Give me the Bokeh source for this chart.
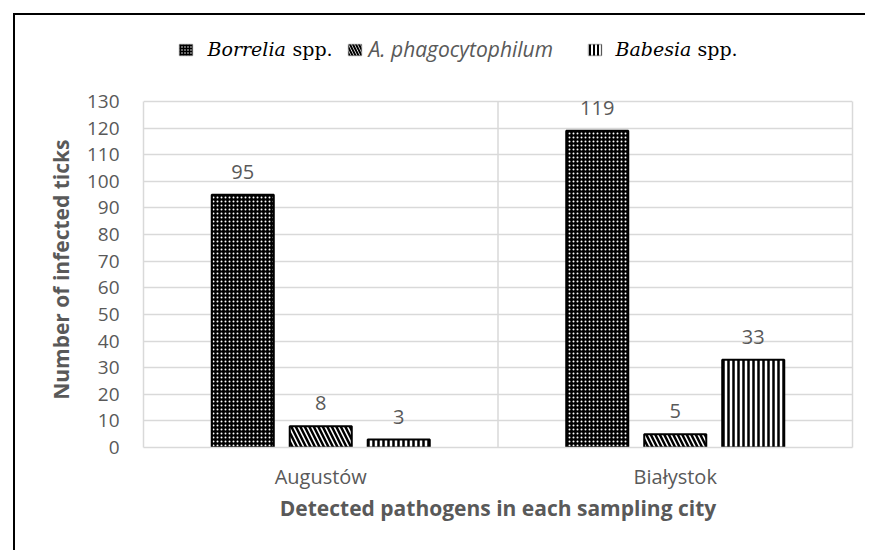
from bokeh.plotting import figure
from bokeh.models import (ColumnDataSource, FactorRange, Range1d, Label, LinearAxis,
                          BoxAnnotation, FixedTicker, LabelSet)
from bokeh.transform import dodge
from bokeh.core.properties import value
from bokeh.embed import file_html
from bokeh.resources import INLINE

# ---- data ----
cities = ["Augustów", "Białystok"]
borrelia = [95, 119]
anaplasma = [8, 5]
babesia = [3, 33]
y_ticks = [0, 10, 20, 30, 40, 50, 60, 70, 80, 90, 100, 110, 120, 130]

GREY = "#595959"
GRID = "#d9d9d9"

# ---- layout constants (pixels) ----
W, H = 856, 541            # canvas size (page offset 15,15 incl. css border)
FRAME_LEFT, FRAME_RIGHT = 128, 19
FRAME_TOP, FRAME_BOTTOM = 0, 109
AXIS_TOP_PX = 86           # px between canvas top and the top gridline
frame_h = H - FRAME_TOP - FRAME_BOTTOM
y_end = y_ticks[-1] * frame_h / (frame_h - AXIS_TOP_PX)

src = ColumnDataSource(dict(
    city=cities,
    borrelia=borrelia, anaplasma=anaplasma, babesia=babesia,
    borrelia_txt=[str(v) for v in borrelia],
    anaplasma_txt=[str(v) for v in anaplasma],
    babesia_txt=[str(v) for v in babesia],
))

p = figure(x_range=FactorRange(*cities), y_range=Range1d(0, y_end),
           width=W, height=H, output_backend="svg", toolbar_location=None,
           min_border_left=FRAME_LEFT, min_border_right=FRAME_RIGHT,
           min_border_top=FRAME_TOP, min_border_bottom=FRAME_BOTTOM,
           margin=(13, 0, 0, 13),
           styles={"border-left": "2px solid black", "border-top": "2px solid black",
                   "border-right": "0px none", "border-bottom": "0px none",
                   "clip-path": "inset(0px 4px 4px 0px)"})

p.outline_line_color = None
p.background_fill_color = "white"
p.border_fill_color = "white"

# grids
p.xgrid.visible = False
p.ygrid.grid_line_color = GRID
p.ygrid.grid_line_width = 1.5
p.ygrid.ticker = FixedTicker(ticks=y_ticks)
# category divider
p.segment(x0=[len(cities) / 2], y0=[y_ticks[0]], x1=[len(cities) / 2], y1=[y_ticks[-1]],
          line_color=GRID, line_width=1.5)

# axes
p.yaxis.ticker = FixedTicker(ticks=y_ticks)
p.yaxis.bounds = (y_ticks[0], y_ticks[-1])
p.yaxis.axis_line_color = GRID
p.yaxis.axis_line_width = 1.5
p.yaxis.major_tick_line_color = None
p.yaxis.minor_tick_line_color = None
p.yaxis.major_label_text_font = "Open Sans"
p.yaxis.major_label_text_font_size = "19px"
p.yaxis.major_label_text_color = GREY
p.yaxis.major_label_standoff = 18
# trailing no-break spaces keep the title centred on the 0-130 part of the axis
p.yaxis.axis_label = "Number of infected ticks" + "\u00a0" * 14
p.yaxis.axis_label_text_font = "Open Sans"
p.yaxis.axis_label_text_font_style = "bold"
p.yaxis.axis_label_text_font_size = "21px"
p.yaxis.axis_label_text_color = GREY
p.yaxis.axis_label_standoff = 9

right_axis = LinearAxis(ticker=FixedTicker(ticks=[]), bounds=(y_ticks[0], y_ticks[-1]),
                        axis_line_color=GRID, axis_line_width=1.5,
                        major_tick_line_color=None, minor_tick_line_color=None,
                        major_tick_out=0, major_label_standoff=0)
p.add_layout(right_axis, "right")

p.xaxis.axis_line_color = GRID
p.xaxis.axis_line_width = 1.5
p.xaxis.major_tick_line_color = None
p.xaxis.minor_tick_line_color = None
p.xaxis.major_label_text_font = "Open Sans"
p.xaxis.major_label_text_font_size = "20px"
p.xaxis.major_label_text_color = GREY
p.xaxis.major_label_standoff = 9
p.xaxis.axis_label = "Detected pathogens in each sampling city"
p.xaxis.axis_label_text_font = "Open Sans"
p.xaxis.axis_label_text_font_style = "bold"
p.xaxis.axis_label_text_font_size = "21px"
p.xaxis.axis_label_text_color = GREY
p.xaxis.axis_label_standoff = 1

# bars
series = [
    ("borrelia", -0.22, dict(fill_color="black", hatch_pattern="dot", hatch_color="white",
                             hatch_scale=4, hatch_weight=0.8)),
    ("anaplasma", 0.0, dict(fill_color="white", hatch_pattern="left_diagonal_line",
                            hatch_color="black", hatch_scale=9, hatch_weight=2.5)),
    ("babesia", 0.22, dict(fill_color="white", hatch_pattern="vertical_line",
                           hatch_color="black", hatch_scale=5, hatch_weight=2.5)),
]
for field, off, style in series:
    p.vbar(x=dodge("city", off, range=p.x_range), top=field, width=0.175, bottom=0,
           source=src, line_color="black", line_width=2, **style)
    p.add_layout(LabelSet(x=dodge("city", off, range=p.x_range), y=field,
                          text=field + "_txt", source=src, y_offset=16,
                          text_align="center", text_baseline="alphabetic",
                          text_font=value("Open Sans"), text_font_size=value("20px"),
                          text_color=GREY))

# legend (screen units: from frame left / frame bottom)
LEG_BASE = 399
LEG_BOX_BOTTOM, LEG_BOX_TOP = 392, 403
legend_boxes = [
    (36, dict(fill_color="black", hatch_pattern="dot", hatch_color="white",
              hatch_scale=3, hatch_weight=0.8)),
    (205, dict(fill_color="white", hatch_pattern="left_diagonal_line",
               hatch_color="black", hatch_scale=6, hatch_weight=2)),
    (445, dict(fill_color="white", hatch_pattern="vertical_line",
               hatch_color="black", hatch_scale=4, hatch_weight=2)),
]
for lx, st in legend_boxes:
    p.add_layout(BoxAnnotation(left=lx, right=lx + 13, top=LEG_BOX_TOP, bottom=LEG_BOX_BOTTOM,
                               left_units="screen", right_units="screen",
                               top_units="screen", bottom_units="screen",
                               fill_alpha=1, line_color="black", line_width=1.5, **st))

legend_texts = [
    (64, "Borrelia", "DejaVu Serif", "italic", "black", "19px"),
    (149, "spp.", "DejaVu Serif", "normal", "black", "19px"),
    (225, "A. phagocytophilum", "Open Sans", "italic", GREY, "21px"),
    (472, "Babesia", "DejaVu Serif", "italic", "black", "19px"),
    (554, "spp.", "DejaVu Serif", "normal", "black", "19px"),
]
for lx, txt, font, style, col, size in legend_texts:
    p.add_layout(Label(x=lx, y=LEG_BASE, x_units="screen", y_units="screen", text=txt,
                       text_font=font, text_font_style=style, text_color=col,
                       text_font_size=size, text_baseline="alphabetic"))

open("out.html", "w").write(file_html(p, INLINE))
